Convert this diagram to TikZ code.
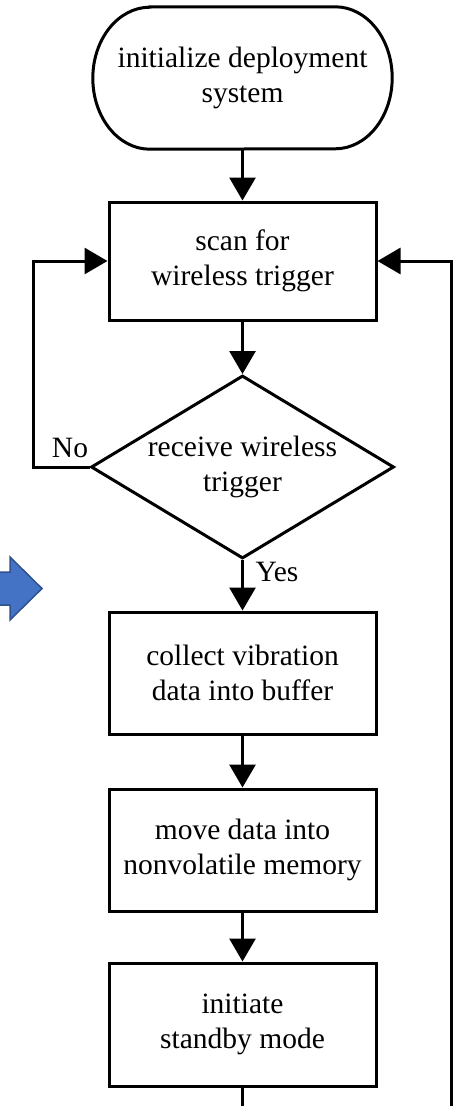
\documentclass[tikz,border=0pt]{standalone}
\usepackage{fontspec}
\setmainfont{Liberation Serif}
\usetikzlibrary{arrows.meta,shapes.geometric}
\definecolor{arrowfill}{HTML}{4472C4}
\definecolor{arrowline}{HTML}{2F528F}
\begin{document}
\begin{tikzpicture}[x=1pt,y=1pt,
  every node/.style={font=\fontsize{29.5pt}{35pt}\selectfont},
  box/.style={draw, line width=3pt, minimum width=267pt, minimum height=122pt, align=center, inner sep=0pt},
  conn/.style={line width=3pt, -{Triangle[width=26pt,length=23pt]}},
  plain/.style={line width=3pt}
  ]
\useasboundingbox (0,0) rectangle (460,-1106);
\clip (0,0) rectangle (460,-1106);
% terminal
\node[minimum width=299pt, minimum height=142pt, align=center, inner sep=0pt] (start) at (242.5,-78) {initialize deployment\\system};
\draw[plain] ([xshift=57pt]start.north west) -- ([xshift=-57pt]start.north east)
  arc[start angle=90, end angle=-90, x radius=57pt, y radius=71pt]
  -- ([xshift=57pt]start.south west)
  arc[start angle=270, end angle=90, x radius=57pt, y radius=71pt] -- cycle;
% process boxes
\node[box, minimum height=118pt] (scan) at (242.5,-261) {scan for\\wireless trigger};
\node[diamond, draw, line width=3pt, aspect=1.656, minimum width=303pt, minimum height=183pt, inner sep=0pt, align=center] (dec) at (242.5,-467) {receive wireless\\trigger};
\node[box] (collect) at (242.5,-673) {collect vibration\\data into buffer};
\node[box] (move) at (242.5,-850) {move data into\\nonvolatile memory};
\node[box, minimum height=123pt] (standby) at (242.5,-1024.5) {initiate\\standby mode};
% labels
\node[anchor=base] (no) at (70,-457) {No};
\node[anchor=base west] (yes) at (252,-581) {Yes};
% connectors
\coordinate (lc) at (33,-467);
\coordinate (bl) at (242.5,-1110);
\coordinate (br) at (451,-1110);
\draw[conn] (start) -- (scan);
\draw[conn] (scan) -- (dec);
\draw[conn] (dec) -- (collect);
\draw[conn] (collect) -- (move);
\draw[conn] (move) -- (standby);
\draw[conn] (dec.west) -- (lc) |- (scan.west);
\draw[plain] (standby) -- (bl);
\draw[conn] (br) |- (scan.east);
% blue block arrow
\draw[fill=arrowfill, draw=arrowline, line width=1.5pt, line join=miter]
  (-5,-572) -- (10,-572) -- (10,-557) -- (42,-588.5) -- (10,-620) -- (10,-605) -- (-5,-605) -- cycle;
\end{tikzpicture}
\end{document}
